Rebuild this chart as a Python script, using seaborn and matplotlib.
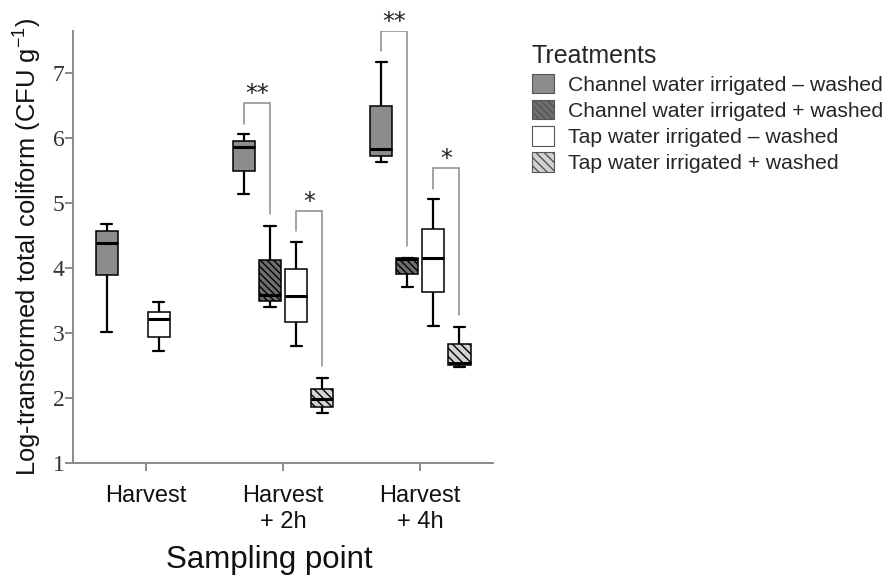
import numpy as np
import pandas as pd
import matplotlib
matplotlib.use("Agg")
import matplotlib.pyplot as plt
from matplotlib.patches import Patch
import seaborn as sns

# Sampling points and treatments
points = ["Harvest", "Harvest\n+ 2h", "Harvest\n+ 4h"]
treatments = [
    "Channel water irrigated \u2013 washed",
    "Channel water irrigated + washed",
    "Tap water irrigated \u2013 washed",
    "Tap water irrigated + washed",
]

# Five-number summaries (min, Q1, median, Q3, max) of log CFU/g per sampling point
channel_unwashed = [
    [3.02, 3.89, 4.38, 4.57, 4.68],
    [5.14, 5.49, 5.86, 5.95, 6.06],
    [5.63, 5.72, 5.83, 6.49, 7.17],
]
channel_washed = [
    None,
    [3.40, 3.49, 3.58, 4.12, 4.65],
    [3.70, 3.90, 4.14, 4.15, 4.15],
]
tap_unwashed = [
    [2.72, 2.94, 3.22, 3.32, 3.48],
    [2.80, 3.17, 3.57, 3.98, 4.40],
    [3.11, 3.63, 4.15, 4.60, 5.06],
]
tap_washed = [
    None,
    [1.77, 1.86, 1.98, 2.14, 2.31],
    [2.48, 2.51, 2.54, 2.83, 3.09],
]
series = [channel_unwashed, channel_washed, tap_unwashed, tap_washed]

# Significance brackets: (sampling point index, left treatment, right treatment, label)
brackets = [
    (1, 0, 1, "**"),
    (1, 2, 3, "*"),
    (2, 0, 1, "**"),
    (2, 2, 3, "*"),
]

rows = []
for t, vals in zip(treatments, series):
    for p, v in zip(points, vals):
        if v is None:
            continue
        for x in v:
            rows.append({"point": p, "treatment": t, "value": x})
df = pd.DataFrame(rows)

fills = ["#8c8c8c", "#6f6f6f", "#ffffff", "#d2d2d2"]
hatches = [None, "\\\\\\\\\\", None, "\\\\\\\\"]

sns.set_theme(style="white")
plt.rcParams["font.family"] = ["Liberation Sans", "DejaVu Sans"]
plt.rcParams["hatch.linewidth"] = 1.0

fig = plt.figure(figsize=(8.9, 5.79), dpi=100)
ax = fig.add_axes([0.082, 0.2003, 0.472, 0.747])

width = 0.76
sns.boxplot(
    data=df, x="point", y="value", hue="treatment",
    order=points, hue_order=treatments,
    palette=fills, saturation=1, width=width, gap=0.15,
    whis=(0, 100), showfliers=False, linecolor="black", linewidth=1.1,
    medianprops=dict(linewidth=2.2, color="black"),
    whiskerprops=dict(linewidth=1.6),
    capprops=dict(linewidth=1.6),
    legend=False, ax=ax,
)

# Hatch the "+ washed" boxes according to their fill colour
face_to_hatch = {}
for f, h in zip(fills, hatches):
    face_to_hatch[tuple(np.round(matplotlib.colors.to_rgb(f), 3))] = h
for patch in ax.patches:
    key = tuple(np.round(patch.get_facecolor()[:3], 3))
    h = face_to_hatch.get(key)
    if h:
        patch.set_hatch(h)

ax.set_ylim(1, 7.65)
ax.set_xlim(-0.53, 2.53)
ax.set_yticks([1, 2, 3, 4, 5, 6, 7])

for side in ["top", "right"]:
    ax.spines[side].set_visible(False)
for side in ["left", "bottom"]:
    ax.spines[side].set_color("#8a8a8a")
    ax.spines[side].set_linewidth(1.4)
ax.tick_params(axis="both", which="major", direction="out", color="#8a8a8a",
               width=1.4, length=6, left=True, bottom=True)
ax.tick_params(axis="y", labelsize=17, pad=0, labelcolor="#333333")
ax.tick_params(axis="x", labelsize=17, pad=10, labelcolor="#111111")
for lbl in ax.get_yticklabels():
    lbl.set_fontfamily("Liberation Serif")
for lbl in ax.get_xticklabels():
    lbl.set_linespacing(1.2)

ax.set_ylabel("Log-transformed total coliform (CFU g$^{\\mathregular{-1}}$)",
              fontsize=18.4, color="#111111", va="center")
ax.yaxis.set_label_coords(-0.11, 0.5)
ax.set_xlabel("Sampling point", fontsize=22.5, color="#111111", va="center")
ax.xaxis.set_label_coords(0.467, -0.225)

# Significance brackets above the compared boxes
slot = width / len(treatments)
offsets = [(i - (len(treatments) - 1) / 2) * slot for i in range(len(treatments))]
for p, a, b, label in brackets:
    xa = p + offsets[a]
    xb = p + offsets[b]
    ya = series[a][p][-1] + 0.16
    yb = series[b][p][-1] + 0.18
    top = max(ya, yb) + 0.31
    ax.plot([xa, xa, xb, xb], [ya, top, top, yb], color="#8a8a8a", lw=1.1,
            solid_joinstyle="miter")
    ax.text((xa + xb) / 2, top + 0.14, label, ha="center", va="center",
            fontsize=17, family="DejaVu Sans", color="#222222")

# Legend
handles = []
for f, h in zip(fills, hatches):
    handles.append(Patch(facecolor=f, edgecolor="#555555", hatch=h, linewidth=0.8))
leg = fig.legend(handles, treatments, title="Treatments", loc="upper left",
                 bbox_to_anchor=(0.581, 0.949), frameon=False, fontsize=15.2,
                 title_fontsize=18, handlelength=1.05, handleheight=1.05,
                 handletextpad=0.65, labelspacing=0.25, alignment="left",
                 borderpad=0.2)

fig.savefig("out.png", dpi=100)
